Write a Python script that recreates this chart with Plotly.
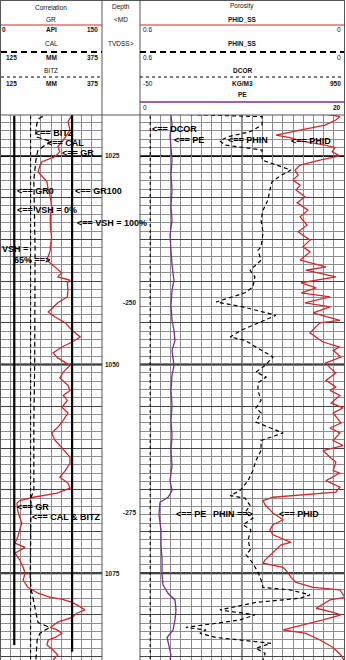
import plotly.graph_objects as go

W, H = 346, 660

# ---------------- data ----------------
GR_DEPTH = [1019.5, 1020.1, 1020.9, 1021.9, 1023.1, 1023.9, 1024.5, 1025.1, 1025.7, 1026.1,
            1026.9, 1027.5, 1028.1, 1029.1, 1029.9, 1031.1, 1032.3, 1033.5, 1034.7, 1035.9,
            1036.3, 1037.5, 1038.3, 1039.0, 1039.5, 1039.9, 1040.2, 1041.1, 1041.9, 1042.6,
            1043.7, 1044.3, 1045.0, 1045.9, 1046.7, 1047.3, 1047.9, 1048.6, 1049.2, 1050.1,
            1050.9, 1051.6, 1052.5, 1053.1, 1053.7, 1054.3, 1055.1, 1055.8, 1056.7, 1057.5,
            1058.2, 1059.1, 1059.7, 1060.5, 1061.1, 1061.8, 1062.7, 1063.5, 1064.2, 1064.8,
            1065.4, 1065.9, 1066.3, 1066.6, 1067.5, 1068.3, 1069.0, 1069.8, 1070.7, 1071.4,
            1071.9, 1072.6, 1073.4, 1074.3, 1075.0, 1075.8, 1076.7, 1077.4, 1077.9, 1078.1,
            1078.5, 1078.8, 1079.4, 1079.8, 1080.3, 1080.9, 1081.5, 1081.8, 1082.2, 1082.7,
            1083.0, 1083.6, 1084.2, 1084.8, 1085.4]
GR_API = [103, 106, 100, 103, 93, 85, 88, 81, 62, 59,
          56, 63, 69, 71, 74, 76, 74, 74, 76, 74,
          74, 69, 81, 91, 85, 103, 99, 100, 99, 85,
          71, 81, 96, 106, 118, 106, 91, 78, 85, 103,
          93, 88, 100, 103, 93, 99, 91, 100, 93, 85,
          76, 81, 88, 96, 103, 103, 96, 88, 100, 103,
          84, 49, 29, 25, 26, 29, 32, 29, 26, 22,
          37, 22, 29, 34, 37, 34, 41, 56, 74, 91,
          106, 113, 125, 113, 106, 84, 74, 84, 91, 81,
          71, 69, 78, 85, 78]

CAL_DEPTH = [1019.8, 1020.1, 1020.5, 1021.0, 1021.9, 1022.7, 1023.1, 1023.3, 1023.8, 1024.3,
             1025.5, 1027.9, 1036.3, 1042.6, 1050.1, 1056.7, 1065.1, 1065.9, 1075.8, 1076.8,
             1078.1, 1079.4, 1080.9, 1081.5, 1082.2, 1083.0, 1085.4]
CAL_MM = [247, 235, 221, 216, 213, 213, 238, 252, 233, 218,
          213, 208, 211, 211, 210, 208, 208, 201, 199, 201,
          206, 211, 218, 247, 223, 216, 213]

BITZ_DEPTH = [1019.5, 1085.5]
BITZ_MM = [200, 200]

GR0_API = 21
GR100_API = 106
GR0_DEPTH = [1020.2, 1083.6]
GR100_DEPTH = [1019.9, 1084.4]

PE_DEPTH = [1020.1, 1021.3, 1022.5, 1023.7, 1025.5, 1027.3, 1029.1, 1030.9, 1032.7, 1034.5,
            1036.3, 1038.1, 1039.9, 1041.1, 1042.9, 1044.7, 1045.9, 1047.1, 1048.3, 1050.1,
            1051.3, 1053.1, 1054.9, 1056.7, 1058.5, 1060.3, 1062.1, 1063.9, 1065.1, 1065.9,
            1066.5, 1068.0, 1069.8, 1071.6, 1073.4, 1075.2, 1076.4, 1077.4, 1078.2, 1079.4,
            1080.6, 1081.8, 1082.7, 1083.6, 1084.8, 1085.4]
PE_VAL = [3.04, 3.14, 2.94, 3.04, 3.14, 3.04, 3.14, 3.04, 3.14, 2.94,
          3.04, 3.14, 3.33, 3.14, 3.04, 3.14, 3.33, 3.43, 3.14, 3.33,
          3.14, 3.04, 3.14, 3.04, 3.14, 3.04, 3.14, 2.94, 3.14, 2.75,
          1.96, 1.86, 2.06, 2.06, 2.16, 2.16, 2.25, 2.75, 3.43, 3.53,
          3.43, 3.24, 2.65, 2.84, 3.04, 2.94]

DCOR_DEPTH = [1019.5, 1085.5]
DCOR_VAL = [0, 0]

PHIN_DEPTH = [1020.0, 1020.3, 1021.3, 1022.1, 1022.7, 1023.2, 1023.7, 1024.3, 1025.5, 1026.7,
              1027.4, 1028.1, 1029.1, 1030.3, 1031.5, 1032.7, 1034.2, 1035.9, 1036.3, 1037.5,
              1038.7, 1039.5, 1040.7, 1041.4, 1042.5, 1043.1, 1044.1, 1044.9, 1045.9, 1046.7,
              1047.1, 1047.9, 1049.1, 1050.1, 1050.9, 1051.5, 1052.2, 1053.1, 1054.3, 1055.2,
              1055.8, 1056.9, 1058.2, 1059.1, 1060.3, 1061.5, 1062.7, 1063.9, 1065.1, 1065.7,
              1066.0, 1066.9, 1067.7, 1068.4, 1069.2, 1069.8, 1071.0, 1072.2, 1072.8, 1073.8,
              1074.9, 1075.8, 1076.7, 1077.0, 1077.6, 1078.0, 1078.5, 1079.4, 1079.7, 1080.0,
              1080.6, 1081.5, 1081.8, 1082.2, 1082.7, 1083.0, 1083.4, 1084.0, 1084.6, 1085.4]
PHIN_VAL = [0.494, 0.241, 0.241, 0.276, 0.341, 0.365, 0.350, 0.241, 0.241, 0.156,
            0.188, 0.212, 0.218, 0.224, 0.238, 0.244, 0.238, 0.244, 0.253, 0.244,
            0.276, 0.262, 0.268, 0.291, 0.376, 0.297, 0.200, 0.247, 0.303, 0.335,
            0.291, 0.259, 0.209, 0.232, 0.259, 0.229, 0.253, 0.253, 0.244, 0.259,
            0.244, 0.259, 0.179, 0.244, 0.244, 0.259, 0.268, 0.282, 0.306, 0.335,
            0.291, 0.276, 0.291, 0.268, 0.297, 0.274, 0.282, 0.276, 0.288, 0.268,
            0.253, 0.244, 0.238, 0.159, 0.100, 0.129, 0.259, 0.365, 0.306, 0.262,
            0.306, 0.465, 0.406, 0.424, 0.376, 0.297, 0.215, 0.259, 0.232, 0.238]

PHID_DEPTH = [1020.0, 1020.3, 1020.7, 1021.3, 1021.9, 1022.5, 1022.8, 1023.2, 1023.7, 1024.0,
              1024.5, 1025.0, 1025.5, 1026.1, 1026.7, 1027.3, 1027.9, 1028.5, 1029.1, 1029.9,
              1030.6, 1031.5, 1032.3, 1033.3, 1034.1, 1035.1, 1035.9, 1036.5, 1037.5, 1038.3,
              1038.7, 1039.5, 1040.2, 1040.8, 1041.4, 1041.9, 1042.6, 1043.1, 1043.8, 1044.7,
              1045.0, 1046.2, 1047.3, 1047.9, 1048.3, 1049.1, 1049.8, 1050.4, 1051.0, 1051.9,
              1052.7, 1053.1, 1053.7, 1054.6, 1055.2, 1055.8, 1057.0, 1057.6, 1058.2, 1059.1,
              1059.7, 1060.3, 1061.1, 1061.7, 1062.7, 1063.0, 1063.9, 1064.7, 1065.3, 1065.9,
              1066.3, 1066.8, 1067.8, 1068.6, 1069.2, 1069.8, 1070.4, 1071.3, 1071.6, 1072.5,
              1073.4, 1073.8, 1074.3, 1074.9, 1075.5, 1076.1, 1076.7, 1077.0, 1077.9, 1078.2,
              1079.2, 1079.7, 1080.0, 1080.6, 1081.2, 1081.8, 1082.2, 1083.0, 1083.9, 1084.8,
              1085.4]
PHID_VAL = [0.053, 0.012, 0.024, 0.056, 0.129, 0.200, 0.159, 0.129, 0.056, 0.026,
            0.035, 0.012, 0.071, 0.129, 0.144, 0.135, 0.150, 0.129, 0.141, 0.115,
            0.138, 0.106, 0.129, 0.109, 0.135, 0.100, 0.121, 0.100, 0.129, 0.053,
            0.112, 0.024, 0.126, 0.082, 0.126, 0.041, 0.115, 0.041, 0.091, 0.012,
            0.071, 0.100, 0.062, 0.012, 0.032, 0.009, 0.053, 0.041, 0.024, 0.053,
            0.024, 0.041, 0.012, 0.038, 0.003, 0.032, 0.009, 0.041, 0.012, 0.032,
            0.003, 0.062, 0.041, 0.024, 0.032, 0.012, 0.053, 0.012, 0.024, 0.209,
            0.238, 0.232, 0.209, 0.179, 0.209, 0.218, 0.209, 0.156, 0.185, 0.209,
            0.232, 0.238, 0.179, 0.165, 0.156, 0.141, 0.091, 0.012, -0.003, 0.041,
            0.082, 0.032, 0.009, 0.062, 0.121, 0.179, 0.112, 0.071, 0.032, 0.009,
            0.0]

MD_LABELS = [1025, 1050, 1075]
TVDSS_LABELS = [-250, -275]
TVDSS_MD = [1042.6, 1067.7]

DEPTH_RANGE = [1085.4, 1020.1]

FONT = "Liberation Sans, Arial, sans-serif"
RED = "#d3282b"
PURPLE = "#7e2d92"


def px(x):
    return x / W


def py(y):
    return 1 - y / H


fig = go.Figure()

# ---- correlation track ----
fig.add_trace(go.Scatter(x=GR_API, y=GR_DEPTH, xaxis="x", yaxis="y", mode="lines",
                         line=dict(color=RED, width=1.3)))
fig.add_trace(go.Scatter(x=[GR0_API, GR0_API], y=GR0_DEPTH, xaxis="x", yaxis="y", mode="lines",
                         line=dict(color="black", width=2.2)))
fig.add_trace(go.Scatter(x=[GR100_API, GR100_API], y=GR100_DEPTH, xaxis="x", yaxis="y", mode="lines",
                         line=dict(color="black", width=2.2)))
fig.add_trace(go.Scatter(x=BITZ_MM, y=BITZ_DEPTH, xaxis="x2", yaxis="y", mode="lines",
                         line=dict(color="black", width=1.1, dash="dot")))
fig.add_trace(go.Scatter(x=CAL_MM, y=CAL_DEPTH, xaxis="x2", yaxis="y", mode="lines",
                         line=dict(color="black", width=1.2, dash="5px,3px")))

# ---- porosity track ----
fig.add_trace(go.Scatter(x=DCOR_VAL, y=DCOR_DEPTH, xaxis="x5", yaxis="y", mode="lines",
                         line=dict(color="black", width=1.1, dash="dot")))
fig.add_trace(go.Scatter(x=PE_VAL, y=PE_DEPTH, xaxis="x4", yaxis="y", mode="lines",
                         line=dict(color=PURPLE, width=1.3)))
fig.add_trace(go.Scatter(x=PHIN_VAL, y=PHIN_DEPTH, xaxis="x3", yaxis="y", mode="lines",
                         line=dict(color="black", width=1.2, dash="4px,3px")))
fig.add_trace(go.Scatter(x=PHID_VAL, y=PHID_DEPTH, xaxis="x3", yaxis="y", mode="lines",
                         line=dict(color=RED, width=1.3)))

GRID = "#8e8e8e"
fig.update_layout(
    width=W, height=H, margin=dict(l=0, r=0, t=0, b=0),
    paper_bgcolor="white", plot_bgcolor="white", showlegend=False,
    font=dict(family=FONT, color="black"),
    yaxis=dict(domain=[0, py(115)], range=DEPTH_RANGE, showticklabels=False, ticks="",
               showgrid=True, tick0=1020, dtick=5, gridcolor="#444444", gridwidth=1,
               minor=dict(tick0=1020, dtick=1, showgrid=True, gridcolor=GRID, gridwidth=0.8),
               zeroline=False, showline=False),
    xaxis=dict(domain=[px(0), px(102)], range=[0, 150], anchor="y", showticklabels=False,
               ticks="", showgrid=True, tick0=0, dtick=15, gridcolor=GRID, gridwidth=0.8,
               zeroline=False, showline=False),
    xaxis2=dict(overlaying="x", range=[125, 375], anchor="y", visible=False),
    xaxis3=dict(domain=[px(140), px(344)], range=[0.6, 0], anchor="y", showticklabels=False,
                ticks="", showgrid=True, tick0=0, dtick=0.03, gridcolor=GRID, gridwidth=0.8,
                zeroline=False, showline=False),
    xaxis4=dict(overlaying="x3", range=[0, 20], anchor="y", visible=False),
    xaxis5=dict(overlaying="x3", range=[-50, 950], anchor="y", visible=False),
)

shapes = []
# heavy depth lines
for md in MD_LABELS:
    for ref in ["x domain", "x3 domain"]:
        shapes.append(dict(type="line", xref=ref, x0=0, x1=1, yref="y", y0=md, y1=md,
                           line=dict(color="black", width=2), layer="below"))
# centre line in porosity track
shapes.append(dict(type="line", xref="x3", x0=0.3, x1=0.3, yref="y domain", y0=0, y1=1,
                   line=dict(color="#444", width=1.2), layer="below"))

# borders
for xb in [0.5, 102, 140, 344.5]:
    shapes.append(dict(type="line", xref="paper", yref="paper", x0=px(xb), x1=px(xb),
                       y0=0, y1=1, line=dict(color="#555", width=1)))
for yb in [0.5, 115]:
    shapes.append(dict(type="line", xref="paper", yref="paper", x0=0, x1=px(344.5),
                       y0=py(yb), y1=py(yb), line=dict(color="#555", width=1)))


def hline(x0, x1, y, color, width, dash="solid"):
    shapes.append(dict(type="line", xref="paper", yref="paper", x0=px(x0), x1=px(x1),
                       y0=py(y), y1=py(y), line=dict(color=color, width=width, dash=dash)))


# header legend lines
hline(1, 102, 25, RED, 1.2)
hline(140, 344, 25, RED, 1.2)
hline(1, 102, 52, "black", 2, "6px,4px")
hline(140, 344, 52, "black", 2, "6px,4px")
hline(1, 102, 77, "black", 1, "dot")
hline(140, 344, 77, "black", 1, "dot")
hline(140, 344, 102, PURPLE, 1.5)

fig.update_layout(shapes=shapes)

ann = []


def text(t, x, y, size=6.5, anchor="center", bold=False, color="#111"):
    ann.append(dict(text=("<b>%s</b>" % t) if bold else t, x=px(x), y=py(y), xref="paper",
                    yref="paper", xanchor=anchor, yanchor="middle", showarrow=False,
                    font=dict(size=size, family=FONT, color=color)))


# header texts
text("Correlation", 51, 7)
text("GR", 51, 20)
text("0", 0, 29, anchor="left", bold=True)
text("API", 51, 29, bold=True)
text("150", 100, 29, anchor="right", bold=True)
text("CAL", 51, 43)
text("125", 4, 57, anchor="left", bold=True)
text("MM", 51, 57, bold=True)
text("375", 100, 57, anchor="right", bold=True)
text("BITZ", 51, 70)
text("125", 4, 84, anchor="left", bold=True)
text("MM", 51, 84, bold=True)
text("375", 100, 84, anchor="right", bold=True)

text("Depth", 121, 7)
text("&lt;MD", 121, 19)
text("TVDSS&gt;", 121, 44)

text("Porosity", 242, 6)
text("PHID_SS", 242, 20, bold=True)
text("0.6", 141, 29, anchor="left")
text("0", 343, 29, anchor="right")
text("PHIN_SS", 242, 44, bold=True)
text("0.6", 141, 57, anchor="left")
text("0", 343, 57, anchor="right")
text("DCOR", 242, 70, bold=True)
text("-50", 141, 84, anchor="left")
text("KG/M3", 242, 84, bold=True)
text("950", 343, 84, anchor="right", bold=True)
text("PE", 242, 95, bold=True)
text("0", 141, 108, anchor="left")
text("20", 343, 108, anchor="right", bold=True)

# curve labels
LS = 9
for t, x, y in [
    ("&lt;== BITZ", 33, 133), ("&lt;== CAL", 45, 143), ("&lt;== GR", 60, 153),
    ("&lt;== GR0", 15, 191), ("&lt;== GR100", 73, 191), ("&lt;== VSH = 0%", 15, 210),
    ("&lt;== VSH = 100%", 75, 223), ("VSH =", 0, 249), ("65% ==&gt;", 12, 260),
    ("&lt;== GR", 15, 507), ("&lt;== CAL &amp; BITZ", 30, 517),
    ("&lt;== DCOR", 150, 128.5), ("&lt;== PE", 172, 139.5), ("&lt;== PHIN", 226, 140),
    ("&lt;== PHID", 289, 141), ("&lt;== PE", 174, 514), ("PHIN ==&gt;", 211, 514),
    ("&lt;== PHID", 277, 514),
]:
    text(t, x, y, size=LS, anchor="left", bold=True, color="black")

# depth labels
for md in MD_LABELS:
    ann.append(dict(text="<b>%d</b>" % md, x=px(113), y=md, xref="paper", yref="y",
                    xanchor="center", yanchor="middle", showarrow=False,
                    font=dict(size=6.5, family=FONT, color="#222")))
for tv, md in zip(TVDSS_LABELS, TVDSS_MD):
    ann.append(dict(text="<b>%d</b>" % tv, x=px(129), y=md, xref="paper", yref="y",
                    xanchor="center", yanchor="middle", showarrow=False,
                    font=dict(size=6.5, family=FONT, color="#222")))

fig.update_layout(annotations=ann)

fig.write_html("out.html", config={"displayModeBar": False})
